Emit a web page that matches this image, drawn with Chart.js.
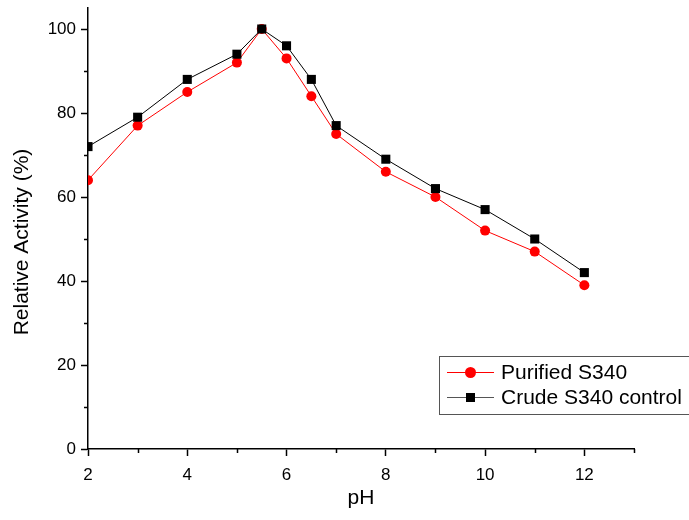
<!DOCTYPE html>
<html>
<head>
<meta charset="utf-8">
<script src="https://cdn.jsdelivr.net/npm/chart.js@4"></script>
<style>
  html, body { margin: 0; padding: 0; background: #fff; }
  #wrap { width: 689px; height: 520px; }
</style>
</head>
<body>
<div id="wrap"><canvas id="grafico" width="689" height="520"></canvas></div>
<script>
// pH tested and relative activity (%) for each preparation
var valoresPh = [2, 3, 4, 5, 5.5, 6, 6.5, 7, 8, 9, 10, 11, 12];
var purificado = [64, 77, 85, 92, 100, 93, 84, 75, 66, 60, 52, 47, 39];
var bruto = [72, 79, 88, 94, 100, 96, 88, 77, 69, 62, 57, 50, 42];

var nomesSeries = ["Purified S340", "Crude S340 control"];
var ticksX = [2, 4, 6, 8, 10, 12];
var ticksY = [0, 20, 40, 60, 80, 100];
var ticksMenoresX = [3, 5, 7, 9, 11, 13];
var ticksMenoresY = [10, 30, 50, 70, 90];

var fonte = "'Liberation Sans', Arial, sans-serif";

function pontos(ys) {
    return valoresPh.map(function (x, i) { return { x: x, y: ys[i] }; });
}

// * ticks menores, legenda e titulos dos eixos sao desenhados aqui
var extras = {
    id: 'extras',
    afterDraw: function (chart) {
        var ctx = chart.ctx;
        var sx = chart.scales.x, sy = chart.scales.y;
        var area = chart.chartArea;
        ctx.save();
        ctx.strokeStyle = '#000';
        ctx.lineWidth = 1.5;
        ctx.beginPath();
        ticksMenoresX.forEach(function (v) {
            var px = Math.round(sx.getPixelForValue(v)) + 0.5;
            ctx.moveTo(px, area.bottom);
            ctx.lineTo(px, area.bottom + 4);
        });
        ticksMenoresY.forEach(function (v) {
            var py = Math.round(sy.getPixelForValue(v)) + 0.5;
            ctx.moveTo(area.left, py);
            ctx.lineTo(area.left - 4, py);
        });
        ctx.stroke();

        // titulos
        ctx.fillStyle = '#000';
        ctx.font = '21px ' + fonte;
        ctx.textAlign = 'center';
        ctx.textBaseline = 'middle';
        ctx.fillText('pH', (area.left + area.right) / 2, 498);
        ctx.translate(22, 242);
        ctx.rotate(-Math.PI / 2);
        ctx.fillText('Relative Activity (%)', 0, 0);
        ctx.setTransform(1, 0, 0, 1, 0, 0);

        // legenda
        ctx.fillStyle = '#fff';
        ctx.fillRect(439, 356, 260, 58);
        ctx.strokeStyle = '#555';
        ctx.lineWidth = 1;
        ctx.strokeRect(439.5, 356.5, 260, 58);
        var linhasY = [372, 397];
        chart.data.datasets.forEach(function (ds, i) {
            var y = linhasY[i];
            ctx.strokeStyle = i == 0 ? ds.borderColor : '#555';
            ctx.lineWidth = 1;
            ctx.beginPath();
            ctx.moveTo(447, y + 0.5);
            ctx.lineTo(494, y + 0.5);
            ctx.stroke();
            ctx.fillStyle = ds.pointBackgroundColor;
            ctx.beginPath();
            if (ds.pointStyle == 'rect') {
                ctx.rect(470.5 - 4.5, y - 4, 9, 9);
            } else {
                ctx.arc(470.5, y + 0.5, 5.5, 0, Math.PI * 2);
            }
            ctx.fill();
            ctx.fillStyle = '#000';
            ctx.font = '21px ' + fonte;
            ctx.textAlign = 'left';
            ctx.textBaseline = 'middle';
            ctx.fillText(ds.label, 501, y + 1);
        });
        ctx.restore();
    }
};

var ctx = document.getElementById('grafico').getContext('2d');
var grafico = new Chart(ctx, {
    type: 'line',
    data: {
        datasets: [{
            label: nomesSeries[0],
            data: pontos(purificado),
            borderColor: '#ff0000',
            borderWidth: 1,
            pointStyle: 'circle',
            pointRadius: 5,
            pointBorderWidth: 0,
            pointBackgroundColor: '#ff0000',
            order: 1
        }, {
            label: nomesSeries[1],
            data: pontos(bruto),
            borderColor: '#000000',
            borderWidth: 1,
            pointStyle: 'rect',
            pointRadius: 6.4,
            pointBorderWidth: 0,
            pointBackgroundColor: '#000000',
            order: 0
        }]
    },
    options: {
        responsive: false,
        animation: false,
        layout: { padding: { top: 8, right: 55, left: 0, bottom: 0 } },
        plugins: {
            legend: { display: false },
            tooltip: { enabled: false }
        },
        scales: {
            x: {
                type: 'linear',
                min: 2,
                max: 13,
                afterBuildTicks: function (s) { s.ticks = ticksX.map(function (v) { return { value: v }; }); },
                afterFit: function (s) { s.height = 71; s.paddingLeft = 0; s.paddingRight = 0; },
                grid: { drawOnChartArea: false, tickLength: 7, tickColor: '#000', tickWidth: 1.5 },
                border: { color: '#000', width: 1.5 },
                ticks: { color: '#000', font: { size: 17, family: fonte }, padding: 9, maxRotation: 0 }
            },
            y: {
                min: 0,
                max: 105,
                afterBuildTicks: function (s) { s.ticks = ticksY.map(function (v) { return { value: v }; }); },
                afterFit: function (s) { s.width = 88; s.paddingTop = 0; s.paddingBottom = 0; },
                grid: { drawOnChartArea: false, tickLength: 7, tickColor: '#000', tickWidth: 1.5 },
                border: { color: '#000', width: 1.5 },
                ticks: { color: '#000', font: { size: 17, family: fonte }, padding: 5 }
            }
        }
    },
    plugins: [extras]
});
</script>
</body>
</html>
